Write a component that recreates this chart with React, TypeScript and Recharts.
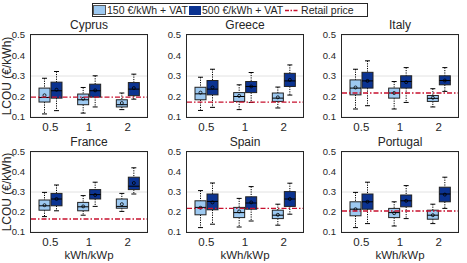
import React from 'react';
import { ComposedChart, Bar, XAxis, YAxis, CartesianGrid, ReferenceLine } from 'recharts';

// each box: [min, q1, median, q3, max, mean]
const categories = ['0.5', '1', '2'];
const countries = ['Cyprus', 'Greece', 'Italy', 'France', 'Spain', 'Portugal'];
const retailPrice = [0.197, 0.173, 0.217, 0.165, 0.218, 0.205];
const yTicks = [0.1, 0.2, 0.3, 0.4, 0.5];

const cyprusLow = [
  [0.115, 0.173, 0.195, 0.241, 0.289, 0.206],
  [0.119, 0.16, 0.184, 0.212, 0.244, 0.189],
  [0.136, 0.149, 0.16, 0.184, 0.217, 0.168],
];
const cyprusHigh = [
  [0.131, 0.192, 0.228, 0.27, 0.322, 0.233],
  [0.149, 0.197, 0.228, 0.26, 0.301, 0.23],
  [0.187, 0.204, 0.236, 0.268, 0.309, 0.241],
];
const greeceLow = [
  [0.132, 0.184, 0.213, 0.245, 0.294, 0.219],
  [0.136, 0.176, 0.2, 0.219, 0.257, 0.203],
  [0.144, 0.176, 0.192, 0.217, 0.246, 0.196],
];
const greeceHigh = [
  [0.147, 0.208, 0.236, 0.278, 0.333, 0.244],
  [0.171, 0.219, 0.249, 0.273, 0.317, 0.249],
  [0.207, 0.249, 0.276, 0.313, 0.354, 0.281],
];
const italyLow = [
  [0.139, 0.208, 0.241, 0.281, 0.333, 0.244],
  [0.139, 0.192, 0.217, 0.241, 0.273, 0.217],
  [0.149, 0.176, 0.191, 0.205, 0.238, 0.194],
];
const italyHigh = [
  [0.155, 0.241, 0.276, 0.318, 0.374, 0.276],
  [0.171, 0.241, 0.273, 0.301, 0.341, 0.27],
  [0.225, 0.257, 0.278, 0.301, 0.341, 0.278],
];
const franceLow = [
  [0.177, 0.209, 0.231, 0.26, 0.298, 0.234],
  [0.184, 0.206, 0.226, 0.248, 0.282, 0.228],
  [0.203, 0.219, 0.228, 0.265, 0.293, 0.239],
];
const franceHigh = [
  [0.206, 0.231, 0.265, 0.293, 0.335, 0.265],
  [0.228, 0.265, 0.287, 0.312, 0.349, 0.285],
  [0.29, 0.312, 0.329, 0.374, 0.421, 0.345],
];
const spainLow = [
  [0.122, 0.186, 0.223, 0.256, 0.307, 0.221],
  [0.125, 0.172, 0.197, 0.223, 0.268, 0.203],
  [0.134, 0.167, 0.184, 0.209, 0.239, 0.186],
];
const spainHigh = [
  [0.139, 0.211, 0.253, 0.29, 0.345, 0.248],
  [0.155, 0.214, 0.245, 0.276, 0.327, 0.248],
  [0.189, 0.228, 0.265, 0.302, 0.344, 0.265],
];
const portugalLow = [
  [0.122, 0.181, 0.214, 0.251, 0.298, 0.214],
  [0.13, 0.172, 0.197, 0.218, 0.251, 0.194],
  [0.142, 0.164, 0.184, 0.209, 0.239, 0.184],
];
const portugalHigh = [
  [0.142, 0.214, 0.251, 0.29, 0.349, 0.251],
  [0.167, 0.226, 0.256, 0.285, 0.332, 0.256],
  [0.218, 0.251, 0.29, 0.324, 0.374, 0.287],
];

const lowSets = [cyprusLow, greeceLow, italyLow, franceLow, spainLow, portugalLow];
const highSets = [cyprusHigh, greeceHigh, italyHigh, franceHigh, spainHigh, portugalHigh];

const FONT = '"Liberation Sans", Arial, Helvetica, sans-serif';
const LIGHT = '#9dc9f1';
const DARK = '#0b3391';
const RED = '#c8102e';
const INK = '#262626';

const colLeft = [31, 187, 342];
const rowTop = [35, 152];
const rowH = [82, 80];
const PW = 116;

function makeBox(key: 'lo' | 'hi', fill: string) {
  return (props: any) => {
    const { x, y, width, height, payload } = props;
    const s: number[] = payload[key];
    const top = Math.min(y, y + height);
    const bot = Math.max(y, y + height);
    const px = (v: number) => bot - ((v - s[0]) / (s[4] - s[0])) * (bot - top);
    const cx = x + width / 2;
    return (
      <g>
        <line x1={cx} x2={cx} y1={px(s[4])} y2={px(s[3])} stroke="#000" strokeWidth={1} strokeDasharray="1.2 1.2" />
        <line x1={cx} x2={cx} y1={px(s[1])} y2={px(s[0])} stroke="#000" strokeWidth={1} strokeDasharray="1.2 1.2" />
        <line x1={cx - 2.5} x2={cx + 2.5} y1={px(s[4])} y2={px(s[4])} stroke="#000" strokeWidth={1} />
        <line x1={cx - 2.5} x2={cx + 2.5} y1={px(s[0])} y2={px(s[0])} stroke="#000" strokeWidth={1} />
        <rect x={x} y={px(s[3])} width={width} height={px(s[1]) - px(s[3])} fill={fill} stroke="#222" strokeWidth={1} />
        <line x1={x} x2={x + width} y1={px(s[2])} y2={px(s[2])} stroke="#000" strokeWidth={1} />
        <circle cx={cx} cy={px(s[5])} r={1.5} fill="none" stroke="#000" strokeWidth={0.8} />
      </g>
    );
  };
}

const lowShape = makeBox('lo', LIGHT);
const highShape = makeBox('hi', DARK);

function Panel({ idx }: { idx: number }) {
  const row = Math.floor(idx / 3);
  const col = idx % 3;
  const left = colLeft[col];
  const top = rowTop[row];
  const plotH = rowH[row];
  const data = categories.map((c, i) => ({ cat: c, lo: lowSets[idx][i], hi: highSets[idx][i] }));
  const W = 31 + PW + 4;
  const H = 20 + plotH + 30;
  return (
    <>
      <div
        style={{
          position: 'absolute',
          left,
          width: PW,
          top: top - 17,
          textAlign: 'center',
          fontSize: 12,
          lineHeight: '14px',
          color: INK,
        }}
      >
        {countries[idx]}
      </div>
      <div style={{ position: 'absolute', left: left - 31, top: top - 20 }}>
        <ComposedChart
          width={W}
          height={H}
          data={data}
          margin={{ top: 20, right: 4, bottom: 0, left: 0 }}
          barSize={11}
          barGap={1}
        >
          <CartesianGrid vertical={false} stroke="#e2e2e2" />
          <XAxis
            dataKey="cat"
            height={30}
            tickLine={false}
            axisLine={false}
            tick={{ fontSize: 11.5, fill: INK, fontFamily: FONT }}
            tickSize={4}
            tickMargin={2}
            label={
              row === 1
                ? { value: 'kWh/kWp', position: 'insideBottom', offset: 3, fontSize: 11.5, fill: INK, fontFamily: FONT }
                : undefined
            }
          />
          <YAxis
            type="number"
            domain={[0.1, 0.5]}
            ticks={yTicks}
            width={31}
            tickLine={false}
            axisLine={false}
            tick={{ fontSize: 9.5, fill: INK, fontFamily: FONT }}
            tickSize={4}
            tickMargin={2}
          />
          <Bar dataKey={(d: any) => [d.lo[0], d.lo[4]]} shape={lowShape} isAnimationActive={false} />
          <Bar dataKey={(d: any) => [d.hi[0], d.hi[4]]} shape={highShape} isAnimationActive={false} />
          <ReferenceLine y={retailPrice[idx]} stroke={RED} strokeDasharray="5 2 1.5 2" strokeWidth={1.3} />
        </ComposedChart>
      </div>
      <div
        style={{
          position: 'absolute',
          left: left - 1,
          top: top - 1,
          width: PW + 2,
          height: plotH + 2,
          boxSizing: 'border-box',
          border: `1px solid ${INK}`,
          pointerEvents: 'none',
        }}
      />
    </>
  );
}

export default function App() {
  return (
    <div
      style={{
        position: 'absolute',
        left: 0,
        top: 0,
        width: 467,
        height: 263,
        background: '#fff',
        fontFamily: FONT,
        overflow: 'hidden',
      }}
    >
      {countries.map((c, i) => (
        <Panel key={c} idx={i} />
      ))}
      {rowTop.map((t, r) => (
        <div
          key={r}
          style={{
            position: 'absolute',
            left: 7,
            top: t + rowH[r] / 2,
            transform: 'translate(-50%, -50%) rotate(-90deg)',
            whiteSpace: 'nowrap',
            fontSize: 12,
            color: INK,
          }}
        >
          LCOU (€/kWh)
        </div>
      ))}
      <div
        style={{
          position: 'absolute',
          left: 92,
          top: 3,
          width: 276,
          height: 14,
          boxSizing: 'border-box',
          border: `1px solid ${INK}`,
          background: '#fff',
          display: 'flex',
          alignItems: 'center',
          fontSize: 10.5,
          color: INK,
          whiteSpace: 'nowrap',
        }}
      >
        <span style={{ width: 11, height: 8, background: LIGHT, border: '1px solid #555', marginRight: 1 }} />
        <span>150 €/kWh + VAT</span>
        <span style={{ width: 12, height: 9, background: DARK, margin: '0 1px 0 1px' }} />
        <span>500 €/kWh + VAT</span>
        <svg width={14} height={9} style={{ margin: '0 2px 0 2px' }}>
          <line x1={0} x2={14} y1={4.5} y2={4.5} stroke={RED} strokeWidth={1.3} strokeDasharray="4 1.5 1.5 1.5" />
        </svg>
        <span>Retail price</span>
      </div>
    </div>
  );
}
